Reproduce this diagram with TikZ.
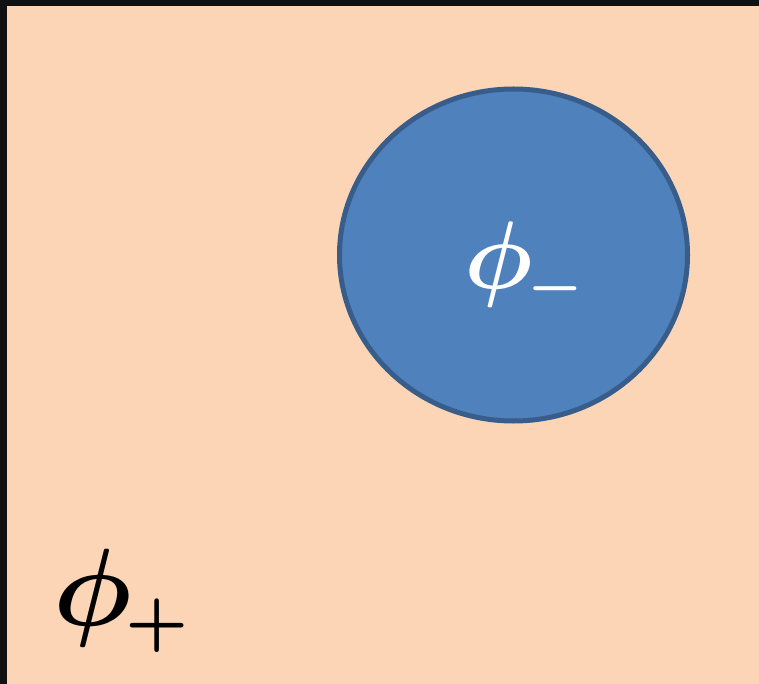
\documentclass[tikz,border=0pt]{standalone}
\definecolor{peach}{HTML}{FBD5B5}
\definecolor{blobfill}{HTML}{4F81BD}
\definecolor{blobline}{HTML}{385D8A}
\definecolor{frame}{HTML}{111111}
\newcommand{\smallsub}[1]{\mkern-1mu\scalebox{0.82}{$\scriptstyle #1$}}
\begin{document}
\begin{tikzpicture}[x=1pt,y=-1pt,
  lbl/.style={inner sep=0pt,outer sep=0pt,anchor=base west,font=\boldmath}]
\useasboundingbox (0,0) rectangle (759,684);
\fill[frame] (0,0) rectangle (759,684);
\fill[peach] (7,6) rectangle (759,684);
\draw[blobline,fill=blobfill,line width=5pt] (513.5,255) ellipse [x radius=174, y radius=166];
\node[lbl,text=white,scale=9.6] (minus) at (464,288) {$\phi_{\smallsub{-}}$};
\node[lbl,text=black,scale=11] (plus) at (53,625) {$\phi_{\smallsub{+}}$};
\end{tikzpicture}
\end{document}
